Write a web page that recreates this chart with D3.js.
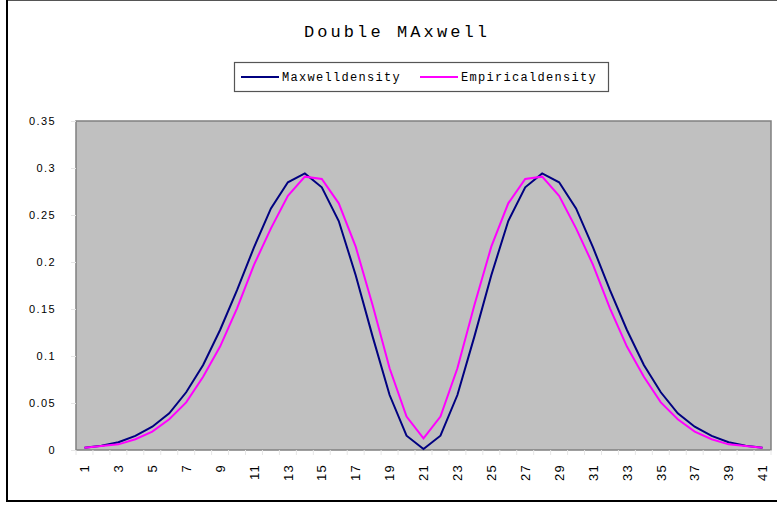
<!DOCTYPE html>
<html>
<head>
<meta charset="utf-8">
<script src="https://cdn.jsdelivr.net/npm/d3@7"></script>
<style>
  html, body { margin: 0; padding: 0; background: #fff; }
  svg { display: block; }
</style>
</head>
<body>
<div id="chart"></div>
<script>
// data
const categories = d3.range(1, 42).map(String);
const maxwellDensity = [
  0.0024, 0.0046, 0.0082, 0.0150, 0.0248, 0.0390, 0.0614, 0.0904, 0.1277, 0.1700,
  0.2156, 0.2570, 0.2848, 0.2943, 0.2795, 0.2436, 0.1860, 0.1206, 0.0585, 0.0152,
  0.0010,
  0.0152, 0.0585, 0.1206, 0.1860, 0.2436, 0.2795, 0.2943, 0.2848, 0.2570, 0.2156,
  0.1700, 0.1277, 0.0904, 0.0614, 0.0390, 0.0248, 0.0150, 0.0082, 0.0046, 0.0024
];
const empiricalDensity = [
  0.0024, 0.0043, 0.0060, 0.0114, 0.0195, 0.0327, 0.0507, 0.0780, 0.1100, 0.1507,
  0.1970, 0.2358, 0.2705, 0.2908, 0.2883, 0.2624, 0.2163, 0.1540, 0.0870, 0.0355,
  0.0124,
  0.0355, 0.0870, 0.1540, 0.2163, 0.2624, 0.2883, 0.2908, 0.2705, 0.2358, 0.1970,
  0.1507, 0.1100, 0.0780, 0.0507, 0.0327, 0.0195, 0.0114, 0.0060, 0.0043, 0.0024
];
const yTicks = [0, 0.05, 0.1, 0.15, 0.2, 0.25, 0.3, 0.35];
const yTickLabels = ['0', '0.05', '0.1', '0.15', '0.2', '0.25', '0.3', '0.35'];
const xTickLabels = categories.filter((d, i) => i % 2 === 0);
const seriesNames = ['Maxwelldensity', 'Empiricaldensity'];

const width = 777, height = 507;
const plot = { left: 76, right: 771, top: 121, bottom: 450 };

const svg = d3.select('#chart').append('svg')
  .attr('width', width)
  .attr('height', height);

// outer chart frame
svg.append('line').attr('x1', 7).attr('x2', width).attr('y1', 0.5).attr('y2', 0.5)
  .attr('stroke', '#555').attr('stroke-width', 1);
svg.append('line').attr('x1', 7).attr('x2', 7).attr('y1', 0).attr('y2', 502)
  .attr('stroke', '#000').attr('stroke-width', 2);
svg.append('line').attr('x1', 6).attr('x2', width).attr('y1', 501).attr('y2', 501)
  .attr('stroke', '#000').attr('stroke-width', 2);

const x = d3.scalePoint()
  .domain(categories)
  .range([plot.left, plot.right])
  .padding(0.5);
const xBand = d3.scaleBand()
  .domain(categories)
  .range([plot.left, plot.right]);
const y = d3.scaleLinear()
  .domain([0, 0.35])
  .range([plot.bottom, plot.top]);

// plot area
svg.append('rect')
  .attr('x', plot.left).attr('y', plot.top)
  .attr('width', plot.right - plot.left)
  .attr('height', plot.bottom - plot.top)
  .attr('fill', '#c0c0c0')
  .attr('stroke', '#808080')
  .attr('stroke-width', 1.5);

// y axis
const yAxis = svg.append('g')
  .attr('transform', 'translate(' + plot.left + ',0)')
  .call(d3.axisLeft(y).tickValues(yTicks).tickSize(5).tickPadding(15)
    .tickFormat((d, i) => yTickLabels[i]));
yAxis.select('.domain').remove();
yAxis.selectAll('.tick line').attr('stroke', '#e6e6e6');
yAxis.selectAll('.tick text')
  .attr('font-family', 'Liberation Sans, Arial, sans-serif')
  .attr('font-size', 11)
  .attr('letter-spacing', 1.4)
  .attr('fill', '#000');

// x axis: faint ticks on band edges, labels on odd categories
const edges = categories.map(d => xBand(d)).concat([plot.right]);
svg.append('g').selectAll('line').data(edges).enter().append('line')
  .attr('x1', d => d).attr('x2', d => d)
  .attr('y1', plot.bottom).attr('y2', plot.bottom + 5)
  .attr('stroke', '#e6e6e6');
svg.append('g').selectAll('text').data(xTickLabels).enter().append('text')
  .attr('transform', d => 'translate(' + x(d) + ',' + (plot.bottom + 14) + ') rotate(-90)')
  .attr('text-anchor', 'end')
  .attr('dy', '0.36em')
  .attr('font-family', 'Liberation Sans, Arial, sans-serif')
  .attr('font-size', 13)
  .attr('letter-spacing', 1.2)
  .attr('fill', '#000')
  .text(d => d);

// lines
const line = d3.line()
  .x((d, i) => x(categories[i]))
  .y(d => y(d));
svg.append('path').datum(maxwellDensity)
  .attr('d', line).attr('fill', 'none')
  .attr('stroke', '#000080').attr('stroke-width', 2);
svg.append('path').datum(empiricalDensity)
  .attr('d', line).attr('fill', 'none')
  .attr('stroke', '#ff00ff').attr('stroke-width', 2);

// title
svg.append('text')
  .attr('x', 397).attr('y', 37)
  .attr('text-anchor', 'middle')
  .attr('font-family', 'Liberation Mono, Courier New, monospace')
  .attr('font-size', 17)
  .attr('letter-spacing', 3.1)
  .attr('fill', '#000')
  .text('Double MAxwell');

// legend
const legend = svg.append('g');
legend.append('rect')
  .attr('x', 234.5).attr('y', 62.5).attr('width', 374).attr('height', 29)
  .attr('fill', '#fff').attr('stroke', '#555').attr('stroke-width', 1.2);
const legendItems = [
  { name: seriesNames[0], color: '#000080', x: 241 },
  { name: seriesNames[1], color: '#ff00ff', x: 420 }
];
legendItems.forEach(item => {
  legend.append('line')
    .attr('x1', item.x).attr('x2', item.x + 38)
    .attr('y1', 77).attr('y2', 77)
    .attr('stroke', item.color).attr('stroke-width', 2);
  legend.append('text')
    .attr('x', item.x + 41).attr('y', 81)
    .attr('font-family', 'Liberation Mono, Courier New, monospace')
    .attr('font-size', 12)
    .attr('letter-spacing', 1.3)
    .attr('fill', '#000')
    .text(item.name);
});
</script>
</body>
</html>
